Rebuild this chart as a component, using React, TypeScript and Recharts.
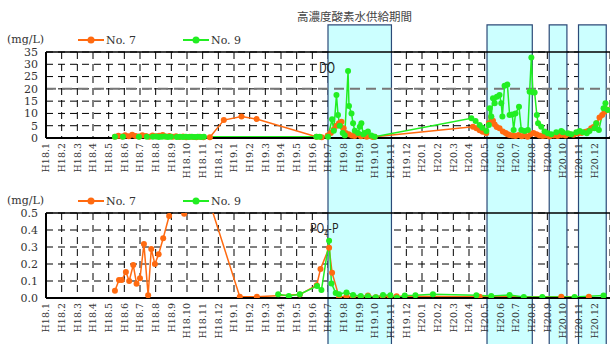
import React from 'react';
import {
  ComposedChart,
  Line,
  XAxis,
  YAxis,
  CartesianGrid,
  ReferenceArea,
  ReferenceLine,
} from 'recharts';

const ORANGE = '#ff6a10';
const GREEN = '#22ee22';
const SERIF = '"DejaVu Serif", serif';
const CJK = '"Noto Sans CJK JP", sans-serif';

// x = month index: 0 = H18.1 ... 35 = H20.12 (fraction = position within the month)
const monthLabels = [
  'H18.1', 'H18.2', 'H18.3', 'H18.4', 'H18.5', 'H18.6', 'H18.7', 'H18.8', 'H18.9', 'H18.10', 'H18.11', 'H18.12',
  'H19.1', 'H19.2', 'H19.3', 'H19.4', 'H19.5', 'H19.6', 'H19.7', 'H19.8', 'H19.9', 'H19.10', 'H19.11', 'H19.12',
  'H20.1', 'H20.2', 'H20.3', 'H20.4', 'H20.5', 'H20.6', 'H20.7', 'H20.8', 'H20.9', 'H20.10', 'H20.11', 'H20.12',
];
const monthTicks = monthLabels.map((_, i) => i);

const doTicks = [0, 5, 10, 15, 20, 25, 30, 35];
const po4Ticks = [0, 0.1, 0.2, 0.3, 0.4, 0.5];

// oxygen-water supply periods [start, end]
const supplyPeriods: [number, number][] = [
  [18.0, 22.05],
  [28.15, 31.04],
  [32.12, 33.25],
  [33.99, 35.76],
];

// DO (mg/L)
const doNo7: [number, number][] = [
  [4.4, 0.5], [4.62, 0.9], [4.85, 0.6], [5.05, 1.1], [5.28, 0.7], [5.5, 1.3], [5.72, 0.8], [5.95, 0.6],
  [6.15, 1.1], [6.38, 0.8], [6.6, 0.5], [6.8, 1.0], [7.02, 0.7], [7.22, 0.9], [7.45, 1.2], [7.65, 0.6],
  [7.88, 0.8], [8.1, 0.5], [8.3, 0.7], [8.52, 0.4], [8.75, 0.6], [8.95, 0.3], [9.18, 0.5], [9.4, 0.4],
  [9.6, 0.3], [9.82, 0.5], [10.05, 0.3], [10.46, 0.3], [11.35, 7.3], [12.48, 8.7], [13.44, 7.7], [17.26, 0.5],
  [17.6, 0.3], [17.98, 1.0], [18.18, 2.0], [18.37, 3.5], [18.56, 5.0], [18.7, 6.0], [18.86, 6.6], [19.0, 4.0],
  [19.13, 2.0], [19.32, 1.5], [19.52, 1.0], [19.7, 0.8], [19.9, 1.5], [20.1, 0.7], [20.28, 1.0], [20.47, 0.5],
  [20.66, 0.8], [20.85, 0.4], [20.98, 0.5],
  [27.25, 4.6], [27.47, 4.0], [27.68, 3.2], [27.87, 2.5], [28.1, 1.9], [28.27, 6.0], [28.42, 8.5], [28.53, 7.0],
  [28.64, 5.5], [28.77, 4.5], [28.95, 4.0], [29.16, 2.6], [29.34, 2.0], [29.46, 1.5], [29.59, 1.2], [29.78, 1.0],
  [29.97, 0.8], [30.17, 1.2], [30.36, 0.7], [30.55, 1.0], [30.74, 0.5], [30.93, 1.5], [31.12, 2.0], [31.31, 1.5],
  [31.5, 1.0], [31.7, 0.8], [31.89, 1.0], [32.14, 0.6], [32.4, 1.0], [32.65, 0.8], [32.9, 1.2], [33.16, 1.0],
  [33.42, 1.5], [33.67, 1.3], [33.93, 1.8], [34.18, 2.0], [34.44, 2.5], [34.63, 3.0], [34.8, 4.0], [34.95, 4.5],
  [35.14, 6.0], [35.33, 8.3], [35.5, 9.4], [35.65, 10.7], [35.84, 11.5],
];

const doNo9: [number, number][] = [
  [4.4, 0.5], [4.91, 0.5], [5.93, 0.5], [6.44, 0.5], [6.82, 0.5], [7.02, 0.6], [7.2, 0.4], [7.4, 0.5],
  [7.59, 0.6], [7.78, 0.4], [7.97, 0.5], [8.35, 0.4], [8.55, 0.5], [8.74, 0.4], [8.93, 0.5], [9.12, 0.4],
  [9.31, 0.5], [9.5, 0.4], [9.69, 0.5], [9.89, 0.4], [10.08, 0.5],
  [17.26, 0.5], [17.47, 0.5], [18.0, 0.5], [18.26, 7.6], [18.37, 3.0], [18.54, 17.5], [18.64, 9.4], [18.75, 5.0],
  [18.94, 2.0], [19.07, 1.0], [19.28, 27.3], [19.34, 13.0], [19.5, 10.0], [19.6, 6.0], [19.71, 3.0], [19.92, 2.0],
  [20.03, 4.6], [20.13, 6.0], [20.25, 1.5], [20.34, 2.0], [20.55, 2.6], [20.77, 1.0], [20.98, 0.5],
  [27.15, 8.0], [27.42, 6.9], [27.68, 5.3], [27.85, 4.2], [28.11, 2.8], [28.27, 5.3], [28.32, 12.1], [28.42, 8.7],
  [28.53, 16.2], [28.64, 14.1], [28.78, 16.8], [28.95, 17.5], [29.06, 14.1], [29.13, 8.7], [29.27, 21.3], [29.45, 21.8],
  [29.59, 9.4], [29.76, 9.6], [29.85, 3.3], [29.97, 10.0], [30.19, 12.7], [30.34, 3.3], [30.55, 2.8], [30.76, 3.3],
  [30.87, 18.8], [30.98, 32.8], [31.08, 18.6], [31.19, 18.5], [31.33, 9.4], [31.41, 6.0], [31.61, 4.6], [31.82, 2.6],
  [32.03, 1.9], [32.25, 1.5], [32.57, 2.3], [32.89, 2.8], [32.99, 2.3], [33.31, 1.9], [33.53, 1.5], [33.85, 2.3],
  [34.06, 2.8], [34.27, 2.3], [34.52, 1.9], [34.69, 2.8], [35.01, 4.0], [35.12, 6.0], [35.29, 3.3], [35.59, 12.1],
  [35.71, 14.1], [35.86, 11.4],
];

// PO4-P (mg/L)
const po4No7: [number, number][] = [
  [4.4, 0.043], [4.66, 0.106], [4.83, 0.106], [5.1, 0.153], [5.31, 0.1], [5.57, 0.194], [5.78, 0.084], [6.0, 0.116],
  [6.25, 0.317], [6.52, 0.016], [6.72, 0.288], [6.95, 0.2], [7.19, 0.258], [7.48, 0.351], [7.86, 0.482], [8.29, 0.62],
  [8.82, 0.495], [9.5, 0.9], [10.14, 0.65], [12.37, 0.008], [13.46, 0.008], [16.2, 0.02], [17.28, 0.075], [17.52, 0.17],
  [18.07, 0.296], [18.26, 0.149], [18.71, 0.005], [19.18, 0.01], [19.58, 0.005], [20.09, 0.008], [20.55, 0.014], [21.05, 0.005],
  [21.49, 0.01], [21.94, 0.008], [22.38, 0.01], [27.68, 0.008], [32.89, 0.008], [34.65, 0.008],
];

const po4No9: [number, number][] = [
  [14.82, 0.022], [15.5, 0.012], [16.2, 0.022], [17.3, 0.07], [17.58, 0.047], [18.07, 0.337], [18.22, 0.086], [18.49, 0.03],
  [18.71, 0.022], [19.18, 0.033], [19.6, 0.018], [20.09, 0.012], [20.55, 0.01], [21.05, 0.005], [21.51, 0.018], [21.98, 0.016],
  [22.4, 0.002], [22.9, 0.014], [23.58, 0.016], [24.7, 0.022], [27.47, 0.016], [28.42, 0.012], [29.59, 0.018], [30.5, 0.006],
  [31.68, 0.006], [33.74, 0.006], [35.59, 0.014],
];

const toRows = (pts: [number, number][]) => pts.map(([t, v]) => ({ t, v }));

const MonthTick = ({ x, y, payload }: any) => (
  <g transform={`translate(${x},${y})`}>
    <text
      transform="rotate(-90)"
      x={0}
      y={0}
      dy="0.35em"
      textAnchor="end"
      fontSize={9.5}
      fontFamily={SERIF}
      fill="#333"
    >
      {monthLabels[payload.value]}
    </text>
  </g>
);

const LegendRow = ({ top }: { top: number }) => (
  <div style={{ position: 'absolute', top, left: 0, width: 260, height: 16, fontFamily: SERIF, fontSize: 11, color: '#333' }}>
    <span style={{ position: 'absolute', left: 7, top: 0 }}>(mg/L)</span>
    {[
      { name: 'No. 7', color: ORANGE, left: 78 },
      { name: 'No. 9', color: GREEN, left: 183 },
    ].map((item) => (
      <span key={item.name} style={{ position: 'absolute', left: item.left, top: 0, display: 'flex', alignItems: 'center' }}>
        <svg width={26} height={14}>
          <line x1={0} y1={7} x2={26} y2={7} stroke={item.color} strokeWidth={2} />
          <circle cx={13} cy={7} r={3.5} fill={item.color} />
        </svg>
        <span style={{ marginLeft: 2 }}>{item.name}</span>
      </span>
    ))}
  </div>
);

const dotStyle = (color: string) => ({ r: 3, fill: color, stroke: color, strokeWidth: 0 });

const xAxisProps = {
  dataKey: 't',
  type: 'number' as const,
  domain: [0, 36],
  ticks: monthTicks,
  interval: 0 as const,
  tick: <MonthTick />,
  tickLine: false,
  tickSize: 0,
  axisLine: { stroke: '#000', strokeWidth: 2 },
  allowDataOverflow: true,
};

const yTickStyle = { fontSize: 11, fill: '#333', fontFamily: SERIF };

const App = () => (
  <div style={{ position: 'absolute', left: 0, top: 0, width: 610, height: 344, background: '#fff', overflow: 'hidden' }}>
    {/* DO panel */}
    <div style={{ position: 'absolute', left: 0, top: 0 }}>
      <ComposedChart width={610} height={180} margin={{ top: 52, right: 0, bottom: 0, left: 0 }}>
        {supplyPeriods.map(([a, b]) => (
          <ReferenceArea
            key={`do-${a}`}
            x1={a}
            x2={b}
            y1={-20}
            y2={46}
            ifOverflow="visible"
            fill="#ccffff"
            fillOpacity={1}
            stroke="#2c4a78"
            strokeWidth={1.2}
          />
        ))}
        <CartesianGrid stroke="#000" strokeDasharray="7 5" />
        <ReferenceLine y={20} stroke="#777" strokeWidth={2} strokeDasharray="10 6" />
        <ReferenceLine y={35} stroke="#000" strokeWidth={1.5} />
        <XAxis {...xAxisProps} height={42} tickMargin={5} />
        <YAxis
          domain={[0, 35]}
          ticks={doTicks}
          interval={0}
          width={46}
          tickLine={false}
          axisLine={{ stroke: '#000', strokeWidth: 2 }}
          tick={yTickStyle}
        />
        <Line data={toRows(doNo7)} dataKey="v" stroke={ORANGE} strokeWidth={1.5} dot={dotStyle(ORANGE)} isAnimationActive={false} />
        <Line data={toRows(doNo9)} dataKey="v" stroke={GREEN} strokeWidth={1.5} dot={dotStyle(GREEN)} isAnimationActive={false} />
      </ComposedChart>
    </div>

    {/* PO4-P panel */}
    <div style={{ position: 'absolute', left: 0, top: 180 }}>
      <ComposedChart width={610} height={164} margin={{ top: 33, right: 0, bottom: 0, left: 0 }}>
        {supplyPeriods.map(([a, b]) => (
          <ReferenceArea
            key={`po4-${a}`}
            x1={a}
            x2={b}
            y1={-0.4}
            y2={0.8}
            ifOverflow="visible"
            fill="#ccffff"
            fillOpacity={1}
            stroke="#2c4a78"
            strokeWidth={1.2}
          />
        ))}
        <CartesianGrid stroke="#000" strokeDasharray="7 5" />
        <ReferenceLine y={0.5} stroke="#000" strokeWidth={1.5} />
        <XAxis {...xAxisProps} height={46} tickMargin={5} />
        <YAxis
          domain={[0, 0.5]}
          ticks={po4Ticks}
          interval={0}
          allowDataOverflow
          width={46}
          tickLine={false}
          axisLine={{ stroke: '#000', strokeWidth: 2 }}
          tickFormatter={(v: number) => v.toFixed(1)}
          tick={yTickStyle}
        />
        <Line data={toRows(po4No7)} dataKey="v" stroke={ORANGE} strokeWidth={1.5} dot={dotStyle(ORANGE)} isAnimationActive={false} />
        <Line data={toRows(po4No9)} dataKey="v" stroke={GREEN} strokeWidth={1.5} dot={dotStyle(GREEN)} isAnimationActive={false} />
      </ComposedChart>
    </div>

    {/* titles, panel labels and legends */}
    <div style={{ position: 'absolute', left: 297, top: 8, fontFamily: CJK, fontSize: 11.5, color: '#444', whiteSpace: 'nowrap' }}>
      高濃度酸素水供給期間
    </div>
    <div style={{ position: 'absolute', left: 319, top: 57, fontFamily: CJK, fontSize: 14, color: '#222', transform: 'scaleX(0.8)', transformOrigin: 'left' }}>
      DO
    </div>
    <div style={{ position: 'absolute', left: 310, top: 218, fontFamily: CJK, fontSize: 13, color: '#222', whiteSpace: 'nowrap', transform: 'scaleX(0.8)', transformOrigin: 'left' }}>
      PO<sub style={{ fontSize: 9 }}>4</sub>-P
    </div>
    <LegendRow top={33} />
    <LegendRow top={194} />
  </div>
);

export default App;
